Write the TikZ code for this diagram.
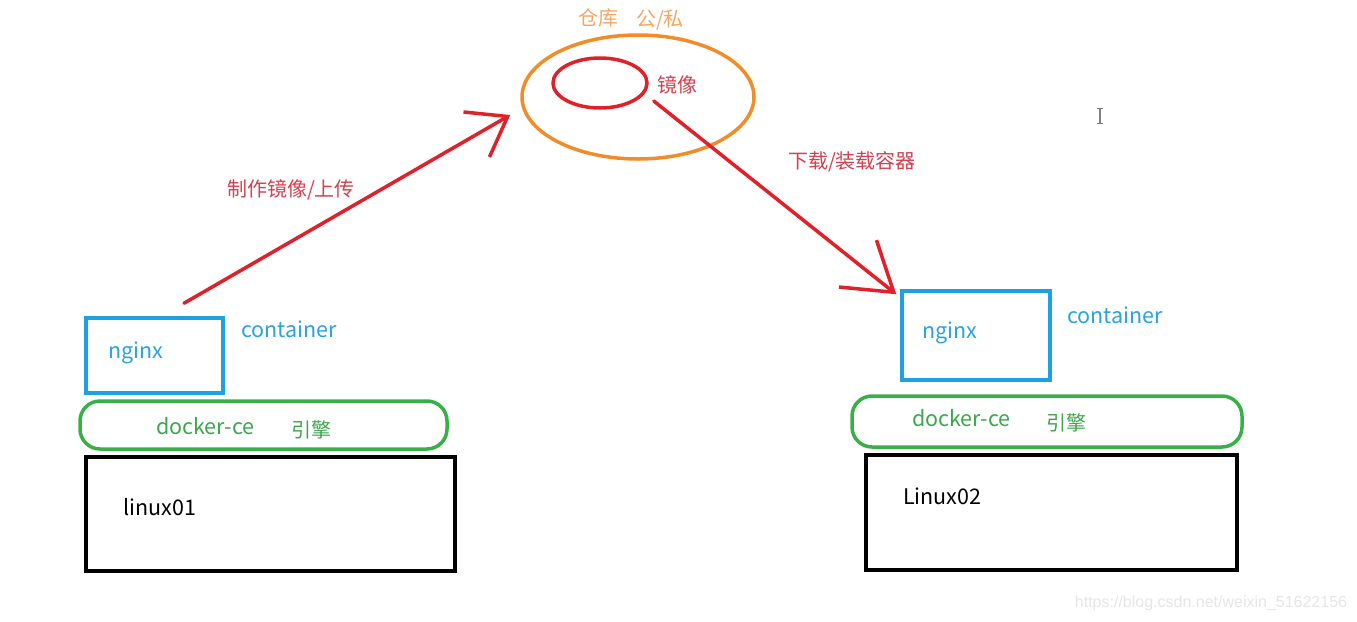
\documentclass[tikz,border=0pt]{standalone}
\usepackage{fontspec}
\setmainfont{Noto Sans CJK SC}
\newfontfamily\wmfont{Liberation Sans}
\usetikzlibrary{shapes.geometric,arrows.meta}
\definecolor{repoorange}{HTML}{F28C28}
\definecolor{repotext}{HTML}{F3A766}
\definecolor{imgred}{HTML}{E0202A}
\definecolor{labred}{HTML}{D5404E}
\definecolor{ctblue}{HTML}{1DA1E2}
\definecolor{ctext}{HTML}{2AA3E0}
\definecolor{enggreen}{HTML}{38B048}
\definecolor{engtext}{HTML}{3DA64C}
\definecolor{wmgray}{HTML}{E6E6E6}
\tikzset{
  lbl/.style={inner sep=0pt, font=\fontsize{20pt}{24pt}\selectfont},
  lat/.style={inner sep=0pt, anchor=west, font=\fontsize{21.5pt}{25pt}\selectfont},
  repo/.style={ellipse, draw=repoorange, line width=3.5pt, inner sep=0pt},
  imgshape/.style={ellipse, draw=imgred, line width=3.5pt, inner sep=0pt},
  ctbox/.style={rectangle, draw=ctblue, line width=3.5pt, inner sep=0pt},
  engbox/.style={rectangle, draw=enggreen, line width=3.5pt, rounded corners=20pt, inner sep=0pt},
  hostbox/.style={rectangle, draw=black, line width=3.5pt, inner sep=0pt},
  flow/.style={draw=imgred, line width=3.5pt, line cap=round, line join=round},
}
\begin{document}
\begin{tikzpicture}[x=1pt,y=-1pt]
\useasboundingbox (0,0) rectangle (1357,621);
\fill[white] (0,0) rectangle (1357,621);

% repository
\node[repo, minimum width=232pt, minimum height=124pt] (repo) at (638,97) {};
\node[imgshape, minimum width=94pt, minimum height=50pt] (image) at (600,83) {};
\node[lbl, text=repotext] (repolbl) at (598,18) {仓库};
\node[lbl, text=repotext] (pubpriv) at (660,20) {公/私};
\node[lbl, text=labred] (imglbl) at (677,85) {镜像};

% left host
\node[ctbox, minimum width=137pt, minimum height=75pt] (nginxL) at (154.5,355.5) {};
\node[lat, text=ctext] (nginxLt) at (108,353) {nginx};
\node[lat, text=ctext] (contL) at (241,329) {container};
\node[engbox, minimum width=367pt, minimum height=48pt] (engL) at (263.5,425) {};
\node[lat, text=engtext] (dockL) at (156,426) {docker-ce};
\node[lbl, text=engtext, anchor=west] (yinL) at (291,430) {引擎};
\node[hostbox, minimum width=369pt, minimum height=114pt] (hostL) at (270.5,514) {};
\node[lat, text=black] (linuxL) at (123,507) {linux01};

% right host
\node[ctbox, minimum width=148pt, minimum height=89pt] (nginxR) at (976,335.5) {};
\node[lat, text=ctext] (nginxRt) at (922,333) {nginx};
\node[lat, text=ctext] (contR) at (1067,315) {container};
\node[engbox, minimum width=390pt, minimum height=51pt] (engR) at (1047,421.5) {};
\node[lat, text=engtext] (dockR) at (912,418) {docker-ce};
\node[lbl, text=engtext, anchor=west] (yinR) at (1046,423) {引擎};
\node[hostbox, minimum width=371pt, minimum height=115pt] (hostR) at (1051.5,512.5) {};
\node[lat, text=black] (linuxR) at (903,496) {Linux02};

% flows
\draw[flow, -{Straight Barb[length=36pt, width=52pt, line width=3.5pt]}]
  ([shift={(29.5,-13)}]nginxL.north) -- ([shift={(-10,18)}]repo.west);
\node[lbl, text=labred] (upl) at (291,190) {制作镜像/上传};
\draw[flow, -{Straight Barb[length=46pt, width=60pt, line width=3.5pt]}]
  ([shift={(5,18)}]image.east) -- ([shift={(-4,5)}]nginxR.north west);
\node[lbl, text=labred] (dl) at (852,162) {下载/装载容器};

% text cursor
\draw[gray, line width=1.2pt] (1100,108) -- (1100,123);
\draw[gray, line width=1pt] (1097,108) -- (1103,108) (1097,123) -- (1103,123);

% watermark
\node[inner sep=0pt, text=wmgray, font=\wmfont\fontsize{16pt}{19pt}\selectfont] (wm) at (1211,603) {https://blog.csdn.net/weixin\_51622156};
\end{tikzpicture}
\end{document}
